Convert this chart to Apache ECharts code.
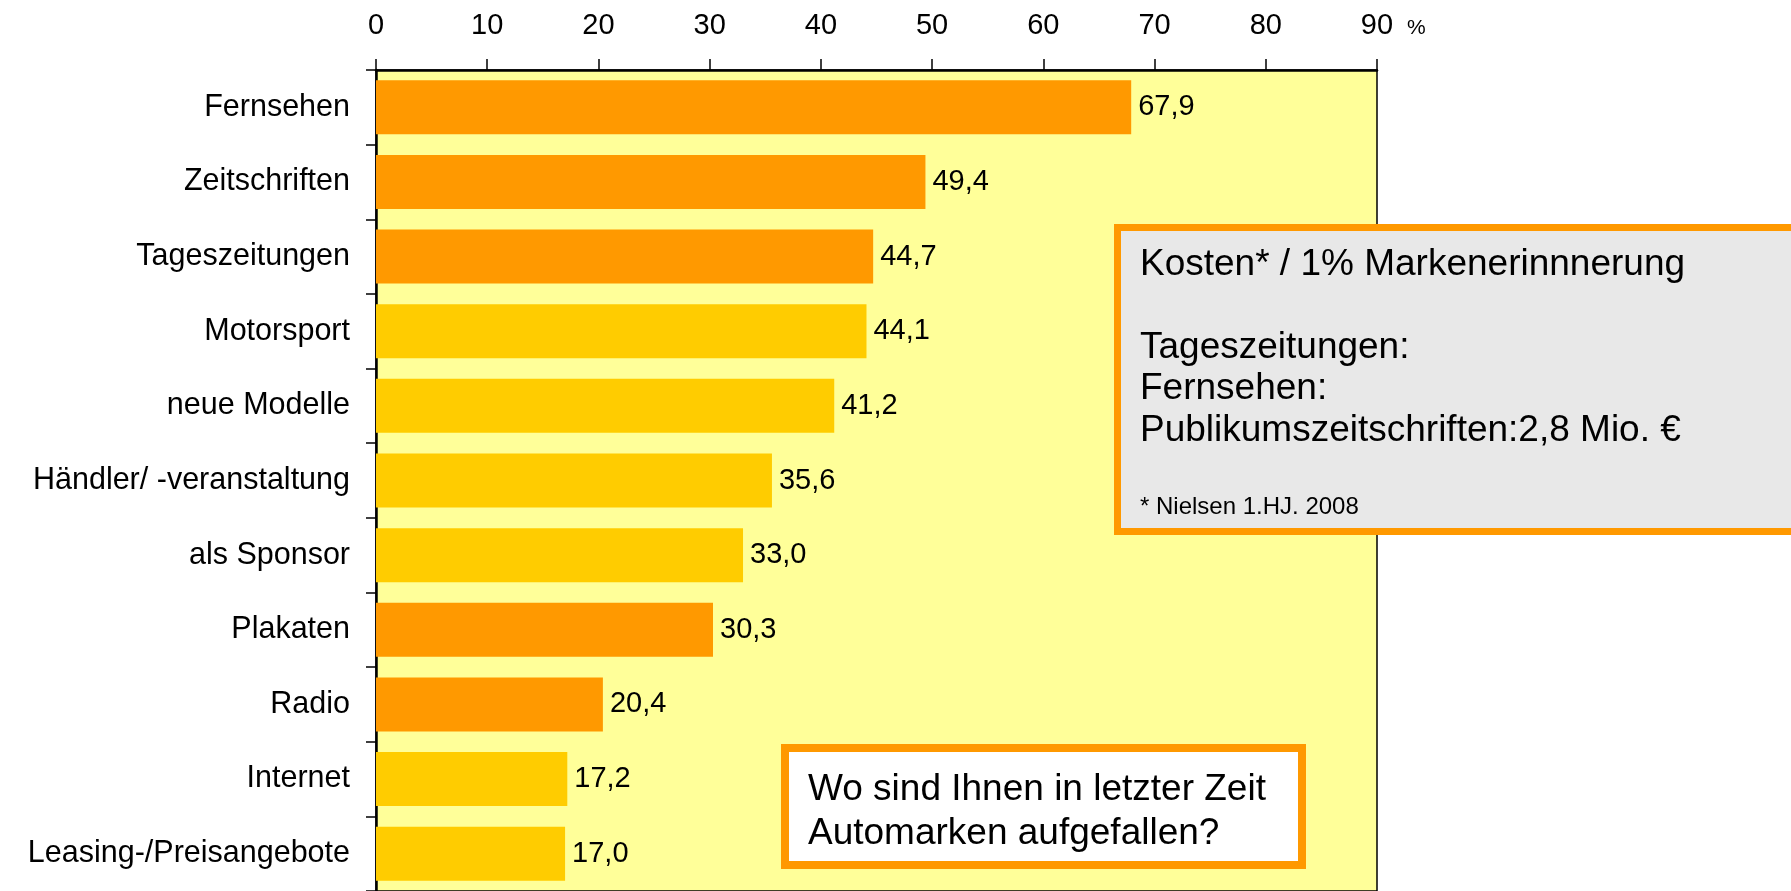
<!DOCTYPE html>
<html>
<head>
<meta charset="utf-8">
<title>Automarken aufgefallen</title>
<script src="https://cdn.jsdelivr.net/npm/echarts@6/dist/echarts.min.js"></script>
<style>
  html, body { margin: 0; padding: 0; background: #fff; }
  #chart { width: 1791px; height: 891px; }
</style>
</head>
<body>
<div id="chart"></div>
<script>
// Kategorien (von oben nach unten) und Werte in %
var categories = ['Fernsehen', 'Zeitschriften', 'Tageszeitungen', 'Motorsport', 'neue Modelle',
  'Händler/ -veranstaltung', 'als Sponsor', 'Plakaten', 'Radio', 'Internet', 'Leasing-/Preisangebote'];
var values = [67.9, 49.4, 44.7, 44.1, 41.2, 35.6, 33.0, 30.3, 20.4, 17.2, 17.0];
// klassische Medien orange, Rest gelb
var isMedia = [true, true, true, false, false, false, false, true, true, false, false];
var axisTicks = [0, 10, 20, 30, 40, 50, 60, 70, 80, 90];

var infoLines = ['Kosten* / 1% Markenerinnnerung', 'Tageszeitungen:', 'Fernsehen:', 'Publikumszeitschriften:2,8 Mio. €'];
var infoNote = '* Nielsen 1.HJ. 2008';
var questionLines = ['Wo sind Ihnen in letzter Zeit', 'Automarken aufgefallen?'];

var FONT = '"Liberation Sans", Arial, sans-serif';
var ORANGE = '#FF9900';
var GOLD = '#FFCC00';

var chart = echarts.init(document.getElementById('chart'));

var barData = [];
for (var i = 0; i < values.length; i++) {
  barData.push({
    value: values[i],
    itemStyle: { color: isMedia[i] ? ORANGE : GOLD }
  });
}

// Text über Grundlinie positionieren
function txt(x, baseline, text, size) {
  return {
    type: 'text',
    x: x,
    y: baseline - size * 0.36 + 5,
    z: 100,
    style: {
      text: text,
      fontFamily: FONT,
      fontSize: size,
      fill: '#000',
      verticalAlign: 'middle',
      align: 'left'
    }
  };
}

var graphics = [
  // Infobox Kosten
  {
    type: 'rect', z: 90,
    shape: { x: 1117.5, y: 227.5, width: 760, height: 304 },
    style: { fill: '#E8E8E8', stroke: ORANGE, lineWidth: 7 }
  },
  txt(1140, 273, infoLines[0], 37),
  txt(1140, 356, infoLines[1], 37),
  txt(1140, 397, infoLines[2], 37),
  txt(1140, 439, infoLines[3], 37),
  txt(1140, 511, infoNote, 24),
  // Frage-Box
  {
    type: 'rect', z: 90,
    shape: { x: 785, y: 748, width: 517, height: 117 },
    style: { fill: '#fff', stroke: ORANGE, lineWidth: 8 }
  },
  txt(808, 798, questionLines[0], 37),
  txt(808, 842, questionLines[1], 37),
  // Einheit an der Achse
  txt(1407, 31, '%', 21)
];

var option = {
  animation: false,
  backgroundColor: '#fff',
  grid: {
    left: 376, top: 70, width: 1001, height: 822,
    show: true,
    backgroundColor: '#FFFF99',
    borderColor: '#000',
    borderWidth: 1.5
  },
  xAxis: {
    type: 'value',
    position: 'top',
    min: axisTicks[0],
    max: axisTicks[axisTicks.length - 1],
    interval: 10,
    axisLine: { show: true, lineStyle: { color: '#000', width: 2.5 } },
    axisTick: { show: true, length: 11, lineStyle: { color: '#000', width: 1.5 } },
    axisLabel: { color: '#000', fontFamily: FONT, fontSize: 29, margin: 30 },
    splitLine: { show: false }
  },
  yAxis: {
    type: 'category',
    inverse: true,
    data: categories,
    axisLine: { show: true, lineStyle: { color: '#000', width: 2.5 } },
    axisTick: { show: true, length: 10, lineStyle: { color: '#000', width: 1.5 } },
    axisLabel: { color: '#000', fontFamily: FONT, fontSize: 30.5, margin: 26 }
  },
  series: [{
    type: 'bar',
    data: barData,
    barWidth: 54,
    label: {
      show: true,
      position: 'right',
      distance: 7,
      color: '#000',
      fontFamily: FONT,
      fontSize: 29,
      formatter: function(p) {
        return p.value.toFixed(1).replace('.', ',');
      }
    }
  }],
  graphic: graphics
};

chart.setOption(option);
</script>
</body>
</html>
